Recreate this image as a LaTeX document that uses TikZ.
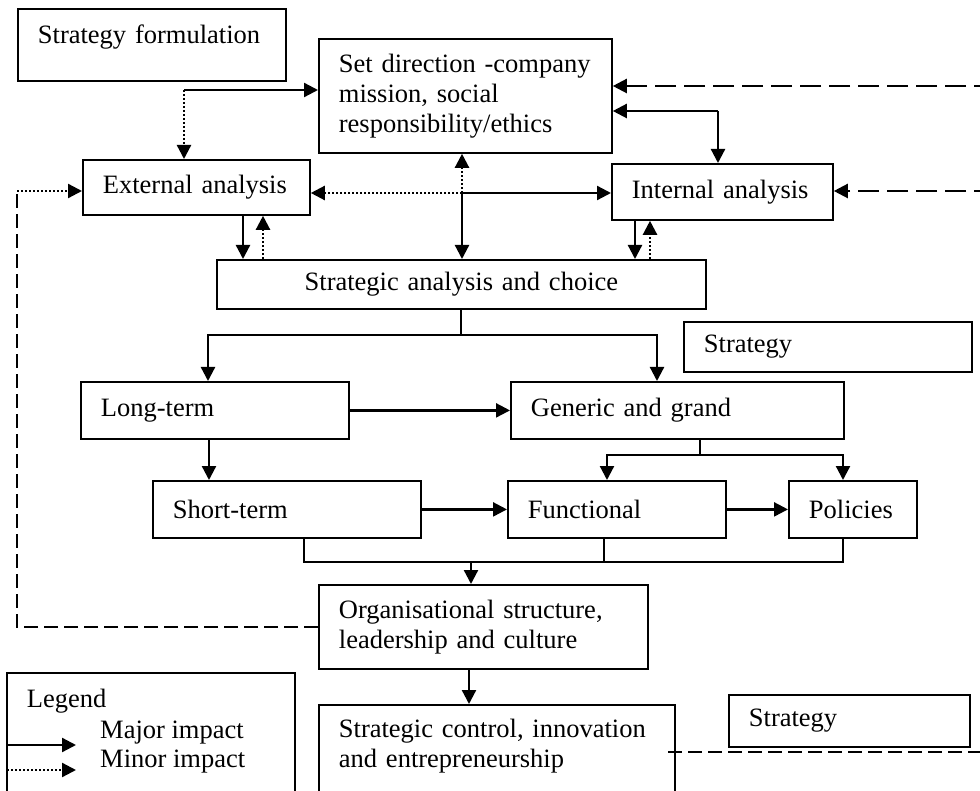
\documentclass[tikz,border=0pt]{standalone}
\usepackage{fontspec}
\setmainfont{Liberation Serif}
\usetikzlibrary{arrows.meta}
\tikzset{
  every picture/.style={font=\fontsize{26.5pt}{30pt}\selectfont},
  tip/.style={-{Triangle[length=14pt,width=14pt]}},
  box/.style={draw, line width=1.8pt, anchor=north west, inner xsep=20pt, inner ysep=0pt, align=left},
  major/.style={line width=2.3pt, tip},
  minor/.style={line width=2.3pt, dash pattern=on 2pt off 2pt, tip},
  plain/.style={line width=1.8pt},
  loop/.style={line width=2pt, dash pattern=on 14pt off 6pt},
  back/.style={line width=2.3pt, dash pattern=on 21pt off 8pt, tip},
}

\begin{document}
\begin{tikzpicture}[x=1pt,y=-1pt]
\useasboundingbox (0,0) rectangle (980,791);
\node[box,text width=228pt,text height=35pt,text depth=37pt] (form) at (17,8) {Strategy formulation};
\node[box,text width=253pt,minimum height=114pt] (dir) at (318,38) {Set direction -company\\mission, social\\responsibility/ethics};
\node[box,text width=187pt,minimum height=55pt] (ext) at (82,159) {External analysis};
\node[box,text width=181pt,minimum height=56pt] (int) at (611,163) {Internal analysis};
\node[box,text width=449pt,minimum height=49pt,align=center] (sac) at (216,259) {Strategic analysis and choice};
\node[box,text width=248pt,minimum height=50pt] (strat1) at (683,321) {Strategy};
\node[box,text width=228pt,minimum height=57pt] (long) at (80,381) {Long-term};
\node[box,text width=293pt,minimum height=57pt] (gen) at (510,381) {Generic and grand};
\node[box,text width=228pt,minimum height=57pt] (short) at (152,480) {Short-term};
\node[box,text width=178pt,minimum height=57pt] (func) at (507,480) {Functional};
\node[box,text width=88pt,minimum height=57pt] (pol) at (788,480) {Policies};
\node[box,text width=289pt,minimum height=84pt] (org) at (318,584) {Organisational structure,\\leadership and culture};
\node[box,text width=316pt,text height=33pt,text depth=100pt] (ctrl) at (318,704) {Strategic control, innovation\\and entrepreneurship};
\node[box,text width=201pt,minimum height=52pt] (strat2) at (728,694) {Strategy};
\node[box,text width=248pt,text height=35pt,text depth=100pt] (legend) at (6,672) {Legend};
\node[anchor=base west,inner sep=0pt] (majtxt) at (100,738) {Major impact};
\node[anchor=base west,inner sep=0pt] (mintxt) at (100,767) {Minor impact};
\coordinate (maja) at (7,745); \coordinate (majb) at (76,745);
\coordinate (mina) at (7,770); \coordinate (minb) at (76,770);
\draw[major] (maja) -- (majb);
\draw[minor] (mina) -- (minb);
\coordinate (j1) at (184,90);
\draw[major] (j1) -- (j1 -| dir.west);
\draw[minor] (j1) -- (j1 |- ext.north);
\coordinate (j2) at (462,193);
\draw[minor] (j2) -- (j2 |- dir.south);
\draw[minor] (j2) -- (j2 -| ext.east);
\draw[major] (j2) -- (j2 -| int.west);
\draw[major] (j2) -- (j2 |- sac.north);
\coordinate (j3) at (718,111);
\draw[major] (j3) -- (j3 -| dir.east);
\draw[major] (j3) -- (j3 |- int.north);
\draw[major] (243,0 |- ext.south) -- (243,0 |- sac.north);
\draw[minor] (263,0 |- sac.north) -- (263,0 |- ext.south);
\draw[major] (635,0 |- int.south) -- (635,0 |- sac.north);
\draw[minor] (650,0 |- sac.north) -- (650,0 |- int.south);
\coordinate (j4) at (461,335);
\draw[plain] (461,0 |- sac.south) -- (j4);
\draw[major] (j4) -| (208,0 |- long.north);
\draw[major] (j4) -| (657,0 |- gen.north);
\draw[major] (long.east) -- (long.east -| gen.west);
\draw[major] (209,0 |- long.south) -- (209,0 |- short.north);
\coordinate (j5) at (700,455);
\draw[plain] (700,0 |- gen.south) -- (j5);
\draw[major] (j5) -| (607,0 |- func.north);
\draw[major] (j5) -| (843,0 |- pol.north);
\draw[major] (short.east) -- (short.east -| func.west);
\draw[major] (func.east) -- (func.east -| pol.west);
\coordinate (j6) at (471,562);
\draw[plain] (304,0 |- short.south) |- (j6) -| (843,0 |- pol.south);
\draw[plain] (604,0 |- func.south) -- (604,0 |- j6);
\draw[major] (j6) -- (j6 |- org.north);
\draw[major] (469,0 |- org.south) -- (469,0 |- ctrl.north);
\coordinate (fb) at (17,191);
\draw[loop] (org.west) -| (fb);
\draw[minor] (fb) -- (fb -| ext.west);
\coordinate (rdir) at (995,86); \coordinate (rint) at (995,191); \coordinate (rctl) at (995,752);
\draw[back] (rdir) -- (rdir -| dir.east);
\draw[back] (rint) -- (rint -| int.east);
\draw[loop,line width=1.6pt] (668,0 |- rctl) -- (rctl) -- (rdir);
\end{tikzpicture}
\end{document}
